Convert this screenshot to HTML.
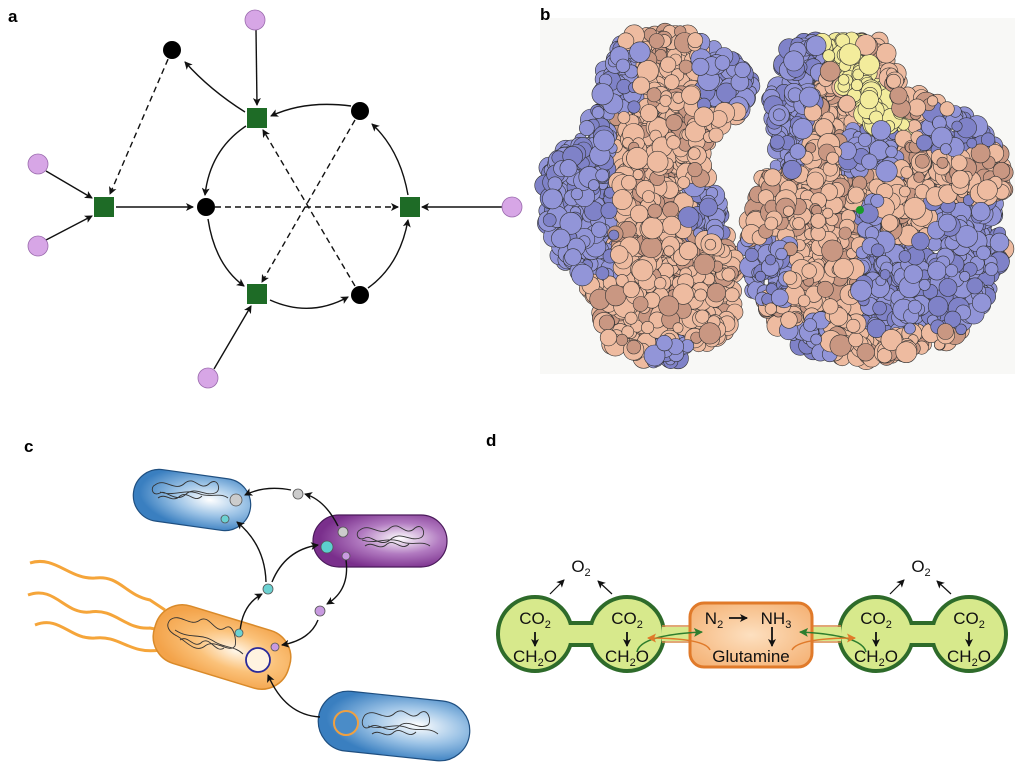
<!DOCTYPE html>
<html><head><meta charset="utf-8"><style>
html,body{margin:0;padding:0;background:#fff;width:1023px;height:776px;overflow:hidden}
svg{display:block}
text{font-family:"Liberation Sans",sans-serif}
</style></head><body>
<svg id="s" width="1023" height="776" viewBox="0 0 1023 776" xmlns="http://www.w3.org/2000/svg">
<defs>
<marker id="ah" markerWidth="8" markerHeight="8" refX="7" refY="4" orient="auto" markerUnits="userSpaceOnUse"><path d="M0,0 L8,4 L0,8 L2,4z" fill="#111"/></marker>
<marker id="ag" markerWidth="9" markerHeight="9" refX="8" refY="4.5" orient="auto" markerUnits="userSpaceOnUse"><path d="M0,0 L9,4.5 L0,9 L2,4.5z" fill="#2e7d2e"/></marker>
<marker id="ao" markerWidth="9" markerHeight="9" refX="8" refY="4.5" orient="auto" markerUnits="userSpaceOnUse"><path d="M0,0 L9,4.5 L0,9 L2,4.5z" fill="#e07a2a"/></marker>
<radialGradient id="gb" cx="0.65" cy="0.45" r="0.6"><stop offset="0" stop-color="#ffffff"/><stop offset="0.5" stop-color="#9cc3e6"/><stop offset="1" stop-color="#3a7fc0"/></radialGradient>
<radialGradient id="gp" cx="0.65" cy="0.45" r="0.6"><stop offset="0" stop-color="#ffffff"/><stop offset="0.5" stop-color="#b27bc1"/><stop offset="1" stop-color="#7a2f8c"/></radialGradient>
<radialGradient id="go" cx="0.6" cy="0.5" r="0.6"><stop offset="0" stop-color="#fff6e8"/><stop offset="0.5" stop-color="#fbc27a"/><stop offset="1" stop-color="#f3a34a"/></radialGradient>
<radialGradient id="gor" cx="0.5" cy="0.5" r="0.6"><stop offset="0" stop-color="#fde0c0"/><stop offset="1" stop-color="#f5b57a"/></radialGradient>
</defs>

<!-- Panel b background -->
<rect x="540" y="18" width="475" height="356" fill="#f8f8f6"/>
<g id="prot"></g>

<!-- labels -->
<g font-weight="bold" font-size="17">
<text x="8" y="22">a</text><text x="540" y="20">b</text>
<text x="24" y="452">c</text><text x="486" y="446">d</text>
</g>

<!-- Panel a -->
<g stroke="#111" stroke-width="1.4" fill="none">
<line x1="172" y1="50" x2="110" y2="194" stroke-dasharray="6,4" marker-end="url(#ah)"/>
<line x1="215" y1="207" x2="398" y2="207" stroke-dasharray="6,4" marker-end="url(#ah)"/>
<line x1="355" y1="120" x2="262" y2="282" stroke-dasharray="6,4" marker-end="url(#ah)"/>
<line x1="355" y1="286" x2="263" y2="130" stroke-dasharray="6,4" marker-end="url(#ah)"/>
<line x1="46" y1="171" x2="92" y2="198" marker-end="url(#ah)"/>
<line x1="46" y1="240" x2="92" y2="216" marker-end="url(#ah)"/>
<line x1="256" y1="30" x2="257" y2="105" marker-end="url(#ah)"/>
<line x1="502" y1="207" x2="422" y2="207" marker-end="url(#ah)"/>
<line x1="214" y1="369" x2="251" y2="306" marker-end="url(#ah)"/>
<line x1="116" y1="207" x2="193" y2="207" marker-end="url(#ah)"/>
<path d="M245,112 Q210,90 185,62" marker-end="url(#ah)"/>
<path d="M351,106 Q305,100 271,116" marker-end="url(#ah)"/>
<path d="M246,126 Q210,150 205,195" marker-end="url(#ah)"/>
<path d="M208,219 Q215,265 244,286" marker-end="url(#ah)"/>
<path d="M270,300 Q310,318 348,297" marker-end="url(#ah)"/>
<path d="M368,288 Q400,265 408,220" marker-end="url(#ah)"/>
<path d="M408,195 Q400,150 372,124" marker-end="url(#ah)"/>
</g>
<g fill="#1e6b26">
<rect x="94" y="197" width="20" height="20"/><rect x="247" y="108" width="20" height="20"/>
<rect x="400" y="197" width="20" height="20"/><rect x="247" y="284" width="20" height="20"/>
</g>
<g fill="#000"><circle cx="172" cy="50" r="9"/><circle cx="206" cy="207" r="9"/><circle cx="360" cy="111" r="9"/><circle cx="360" cy="295" r="9"/></g>
<g fill="#d7a6e6" stroke="#9a6aad" stroke-width="0.8"><circle cx="255" cy="20" r="10"/><circle cx="38" cy="164" r="10"/><circle cx="38" cy="246" r="10"/><circle cx="512" cy="207" r="10"/><circle cx="208" cy="378" r="10"/></g>

<!-- Panel c -->
<g fill="none" stroke="#f5a53a" stroke-width="3">
<path d="M30,563 C55,555 70,580 95,578 C120,575 125,595 150,600 L165,610"/>
<path d="M28,595 C55,585 65,615 90,612 C115,608 125,630 150,628 L160,630"/>
<path d="M35,625 C60,615 70,640 95,638 C120,635 130,655 160,650"/>
</g>
<g transform="rotate(8 192 500)"><rect x="133" y="474" width="118" height="52" rx="26" fill="url(#gb)" stroke="#1f4f80" stroke-width="1.2"/></g>
<rect x="313" y="515" width="134" height="52" rx="26" fill="url(#gp)" stroke="#4a1a5a" stroke-width="1.2"/>
<g transform="rotate(17 222 647)"><rect x="152" y="617" width="140" height="60" rx="28" fill="url(#go)" stroke="#d98a2a" stroke-width="1.5"/></g>
<g transform="rotate(6 394 726)"><rect x="318" y="696" width="152" height="60" rx="30" fill="url(#gb)" stroke="#1f4f80" stroke-width="1.2"/></g>
<g stroke="#111" stroke-width="1.4" fill="none">
<path d="M291,490 Q265,485 245,495" marker-end="url(#ah)"/>
<path d="M338,526 Q325,500 305,494" marker-end="url(#ah)"/>
<path d="M266,582 Q265,545 237,522" marker-end="url(#ah)"/>
<path d="M272,582 Q285,550 318,545" marker-end="url(#ah)"/>
<path d="M346,560 Q350,590 327,604" marker-end="url(#ah)"/>
<path d="M318,620 Q310,640 282,645" marker-end="url(#ah)"/>
<path d="M240,632 Q242,605 262,594" marker-end="url(#ah)"/>
<path d="M320,717 Q285,715 268,675" marker-end="url(#ah)"/>
</g>
<g fill="none" stroke="#333" stroke-width="0.9">
<path d="M155,485 c10,-8 20,8 30,-2 c10,-8 15,10 25,0 c8,-6 12,8 5,10 c-10,4 -20,-8 -30,2 c-10,8 -20,-6 -25,-2 c-8,4 -10,-6 -5,-8 M160,492 c15,5 25,-4 40,2 c10,4 20,-2 28,4 M158,498 c8,-6 14,6 22,-2 c8,-6 14,8 22,0"/>
<path d="M360,530 c10,-8 20,8 30,-2 c10,-8 15,10 25,0 c8,-6 12,8 5,10 c-10,4 -20,-8 -30,2 c-10,8 -20,-6 -25,-2 c-8,4 -10,-6 -5,-8 M362,540 c15,5 25,-4 40,2 c10,4 20,-2 28,4 M365,546 c8,-6 14,6 22,-2 c8,-6 14,8 22,0"/>
<path d="M170,620 c10,-8 20,8 30,0 c10,-6 15,15 25,8 c8,-6 12,12 10,18 c-6,8 -20,-8 -30,0 c-10,8 -20,-6 -28,-10 c-8,-4 -12,-10 -7,-16 M175,630 c15,10 25,2 40,12 c10,6 20,4 28,12 M180,640 c8,-6 14,10 22,2 c8,-6 14,12 22,6"/>
<path d="M365,715 c10,-8 20,8 30,-2 c10,-8 15,10 25,0 c8,-6 12,8 8,12 c-10,6 -20,-8 -30,2 c-10,8 -20,-6 -28,0 c-8,4 -10,-6 -5,-12 M368,726 c15,5 25,-4 40,2 c10,4 20,-2 30,6 M372,734 c8,-6 14,6 22,-2 c8,-6 14,8 22,0"/>
</g>
<g stroke="#555" stroke-width="0.8">
<circle cx="236" cy="500" r="6" fill="#ccc"/><circle cx="225" cy="519" r="4" fill="#6cd2d2"/>
<circle cx="298" cy="494" r="5" fill="#ccc"/><circle cx="343" cy="532" r="5" fill="#ccc"/>
<circle cx="327" cy="547" r="6" fill="#5ccfcf"/><circle cx="346" cy="556" r="4" fill="#c89ae0"/>
<circle cx="268" cy="589" r="5" fill="#6cd2d2"/><circle cx="320" cy="611" r="5" fill="#c89ae0"/>
<circle cx="239" cy="633" r="4" fill="#6cd2d2"/><circle cx="275" cy="647" r="4" fill="#c89ae0"/>
</g>
<circle cx="258" cy="660" r="12" fill="#fff3e0" stroke="#2a2a9a" stroke-width="1.8"/>
<circle cx="346" cy="723" r="12" fill="#4a8cc8" stroke="#f0a040" stroke-width="2"/>

<!-- Panel d -->
<g fill="#d7e98c" stroke="#2e6b2a" stroke-width="4">
<rect x="560" y="623" width="40" height="22" stroke="none"/>
<rect x="905" y="623" width="40" height="22" stroke="none"/>
<line x1="570" y1="623" x2="595" y2="623"/><line x1="570" y1="645" x2="595" y2="645"/>
<line x1="910" y1="623" x2="940" y2="623"/><line x1="910" y1="645" x2="940" y2="645"/>
<circle cx="535" cy="634" r="37"/><circle cx="627" cy="634" r="37"/>
<circle cx="876" cy="634" r="37"/><circle cx="969" cy="634" r="37"/>
</g>
<rect x="560" y="625" width="40" height="18" fill="#d7e98c"/><rect x="905" y="625" width="40" height="18" fill="#d7e98c"/>
<g stroke="#d98a4a" stroke-width="1.5"><line x1="662" y1="626" x2="692" y2="626"/><line x1="662" y1="642" x2="692" y2="642"/><line x1="811" y1="626" x2="841" y2="626"/><line x1="811" y1="642" x2="841" y2="642"/></g>
<rect x="662" y="627" width="30" height="14" fill="#d7e98c"/><rect x="811" y="627" width="30" height="14" fill="#d7e98c"/>
<rect x="690" y="603" width="122" height="64" rx="14" fill="url(#gor)" stroke="#e07a2a" stroke-width="3"/>
<g fill="none" stroke-width="1.6">
<path d="M637,652 Q640,635 702,632" stroke="#2e7d2e" marker-end="url(#ag)"/>
<path d="M710,650 Q705,638 648,638" stroke="#e07a2a" marker-end="url(#ao)"/>
<path d="M866,652 Q862,635 800,632" stroke="#2e7d2e" marker-end="url(#ag)"/>
<path d="M792,650 Q798,638 855,638" stroke="#e07a2a" marker-end="url(#ao)"/>
</g>
<g stroke="#111" stroke-width="1.8">
<line x1="535" y1="632" x2="535" y2="646" marker-end="url(#ah)"/><line x1="627" y1="632" x2="627" y2="646" marker-end="url(#ah)"/>
<line x1="876" y1="632" x2="876" y2="646" marker-end="url(#ah)"/><line x1="969" y1="632" x2="969" y2="646" marker-end="url(#ah)"/>
<line x1="729" y1="618" x2="747" y2="618" marker-end="url(#ah)"/><line x1="772" y1="627" x2="772" y2="646" marker-end="url(#ah)"/>
</g>
<g stroke="#111" stroke-width="1.2">
<line x1="550" y1="594" x2="564" y2="580" marker-end="url(#ah)"/><line x1="612" y1="594" x2="598" y2="581" marker-end="url(#ah)"/>
<line x1="890" y1="594" x2="904" y2="580" marker-end="url(#ah)"/><line x1="951" y1="594" x2="937" y2="581" marker-end="url(#ah)"/>
</g>
<g font-size="17" fill="#111" text-anchor="middle">
<text x="581" y="572">O<tspan font-size="11" dy="4">2</tspan></text>
<text x="921" y="572">O<tspan font-size="11" dy="4">2</tspan></text>
<text x="535" y="624">CO<tspan font-size="11" dy="4">2</tspan></text>
<text x="627" y="624">CO<tspan font-size="11" dy="4">2</tspan></text>
<text x="876" y="624">CO<tspan font-size="11" dy="4">2</tspan></text>
<text x="969" y="624">CO<tspan font-size="11" dy="4">2</tspan></text>
<text x="535" y="662">CH<tspan font-size="11" dy="4">2</tspan><tspan dy="-4">O</tspan></text>
<text x="627" y="662">CH<tspan font-size="11" dy="4">2</tspan><tspan dy="-4">O</tspan></text>
<text x="876" y="662">CH<tspan font-size="11" dy="4">2</tspan><tspan dy="-4">O</tspan></text>
<text x="969" y="662">CH<tspan font-size="11" dy="4">2</tspan><tspan dy="-4">O</tspan></text>
<text x="714" y="624">N<tspan font-size="11" dy="4">2</tspan></text>
<text x="776" y="624">NH<tspan font-size="11" dy="4">3</tspan></text>
<text x="751" y="662">Glutamine</text>
</g>
</svg>
<script>
(function(){
var g=document.getElementById('prot'),ns='http://www.w3.org/2000/svg';
var seed=7;function r(){seed=(seed*16807)%2147483647;return seed/2147483647;}
function pip(p,x,y){var c=false;for(var i=0,j=p.length-2;i<p.length;j=i,i+=2){var xi=p[i],yi=p[i+1],xj=p[j],yj=p[j+1];if(((yi>y)!=(yj>y))&&(x<(xj-xi)*(y-yi)/(yj-yi)+xi))c=!c;}return c;}
var L=[625,35,680,30,720,50,757,75,745,110,720,130,700,160,715,185,725,230,735,260,740,300,730,330,700,350,665,365,640,360,610,345,600,310,580,280,560,260,545,220,545,170,575,140,600,100,605,60];
var R=[790,40,830,38,880,40,910,90,935,100,960,110,995,140,1008,180,1000,220,1005,260,990,290,975,320,940,345,880,360,840,360,800,345,770,320,750,290,745,240,760,180,775,150,770,90];
var cols=[];
for(var k=0;k<5000;k++){
 var x=540+r()*472,y=25+r()*345,w=pip(L,x,y)?1:(pip(R,x,y)?2:0);if(!w)continue;
 var blue=false,col;
 if(w==1){blue=(x<615&&y>80&&y<280)||(y<110&&x>600&&x<640&&y>45)||(x>700&&y<110)||(x>688&&y>185&&y<235)||(y>340&&x>650&&x<690);}
 else{blue=(x<830&&y<170&&y>35&&x<800+(170-y)*0.2)||(x>845&&x<900&&y>125&&y<175)||(y>200&&y<330&&x>860&&x<1000&&!(x>880&&x<930&&y<240))||(x<790&&y>240&&y<300)||(y>320&&x>780&&x<830)||(x>920&&y>110&&y<150);}
 if(w==2&&y<130&&y>35&&x>815+(y-40)*0.6&&x<860+(y-40)*0.6)col='#f3ec9c';
 else col=blue?(r()<0.3?'#7f82c8':'#9295d8'):(r()<0.25?'#c99782':'#eebba0');
 cols.push([x,y,col]);
}
cols.forEach(function(c){var e=document.createElementNS(ns,'circle');e.setAttribute('cx',c[0].toFixed(1));e.setAttribute('cy',c[1].toFixed(1));e.setAttribute('r',(5+r()*6).toFixed(1));e.setAttribute('fill',c[2]);e.setAttribute('stroke','#333');e.setAttribute('stroke-width','0.6');g.appendChild(e);});
var d=document.createElementNS(ns,'circle');d.setAttribute('cx','860');d.setAttribute('cy','210');d.setAttribute('r','4');d.setAttribute('fill','#1a9a2a');g.appendChild(d);
})();
</script>
</body></html>
